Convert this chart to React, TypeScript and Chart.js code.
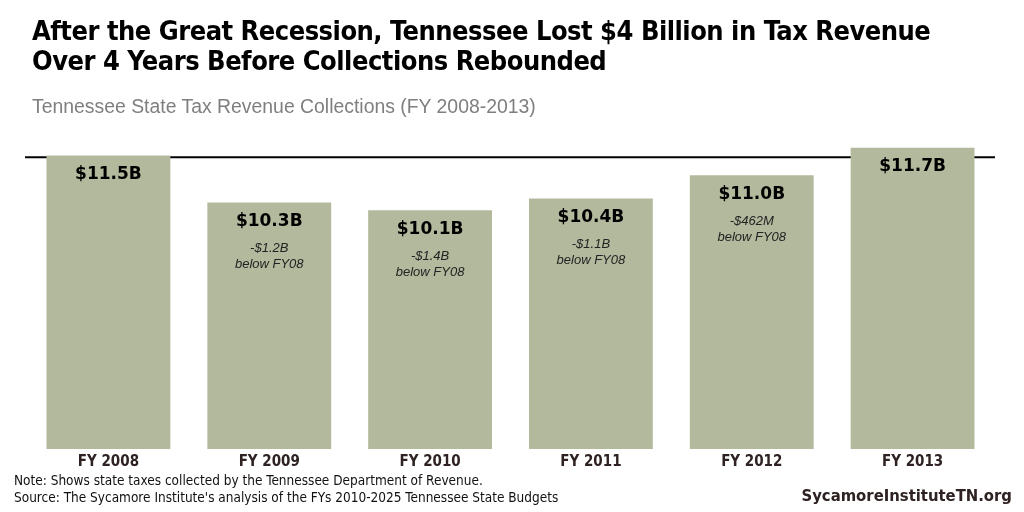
import React, { useEffect, useRef } from "react";
import { Chart, registerables } from "chart.js";

Chart.register(...registerables);

const categories = ["FY 2008", "FY 2009", "FY 2010", "FY 2011", "FY 2012", "FY 2013"];
const revenue = [11.5, 10.3, 10.1, 10.4, 11.0, 11.7];
const valueLabels = ["$11.5B", "$10.3B", "$10.1B", "$10.4B", "$11.0B", "$11.7B"];
const diffLabels = ["", "-$1.2B", "-$1.4B", "-$1.1B", "-$462M", ""];
const diffSuffix = ["", "below FY08", "below FY08", "below FY08", "below FY08", ""];
const referenceValue = 11.46;

const NARROW = "'Liberation Sans Narrow', 'DejaVu Sans Condensed', 'Arial Narrow', sans-serif";
const ARIAL = "'Liberation Sans', Arial, sans-serif";
const VERDANA = "'DejaVu Sans', Verdana, sans-serif";

const labelPlugin = {
  id: "barLabels",
  beforeDatasetsDraw(chart: any) {
    const { ctx, chartArea, scales } = chart;
    const y = scales.y.getPixelForValue(referenceValue);
    ctx.save();
    ctx.strokeStyle = "#000000";
    ctx.lineWidth = 2;
    ctx.beginPath();
    ctx.moveTo(chartArea.left - 3, y);
    ctx.lineTo(chartArea.right + 2, y);
    ctx.stroke();
    ctx.restore();
  },
  afterDatasetsDraw(chart: any) {
    const { ctx } = chart;
    const meta = chart.getDatasetMeta(0);
    ctx.save();
    ctx.textAlign = "center";
    ctx.textBaseline = "middle";
    meta.data.forEach((bar: any, i: number) => {
      const x = bar.x;
      const top = bar.y;
      ctx.fillStyle = "#000000";
      ctx.font = `bold 17px ${VERDANA}`;
      ctx.fillText(valueLabels[i], x, top + 19);
      if (diffLabels[i]) {
        ctx.fillStyle = "#222222";
        ctx.font = `italic 13px ${ARIAL}`;
        ctx.fillText(diffLabels[i], x, top + 46);
        ctx.fillText(diffSuffix[i], x, top + 62);
      }
    });
    ctx.restore();
  },
};

export default function App() {
  const ref = useRef<HTMLCanvasElement | null>(null);
  useEffect(() => {
    if (!ref.current) return;
    const chart = new Chart(ref.current, {
      type: "bar",
      data: {
        labels: categories,
        datasets: [
          {
            data: revenue,
            backgroundColor: "#b3b99d",
            borderWidth: 0,
            barPercentage: 0.77,
            categoryPercentage: 1,
          },
        ],
      },
      options: {
        animation: false,
        responsive: false,
        maintainAspectRatio: false,
        layout: { padding: { left: 28, right: 31, top: 136, bottom: 45 } },
        plugins: { legend: { display: false }, tooltip: { enabled: false }, title: { display: false } },
        scales: {
          x: {
            grid: { display: false },
            border: { display: false },
            ticks: { color: "#2e2222", font: { family: NARROW, size: 15, weight: "bold" }, padding: -4 },
          },
          y: { display: false, min: 4, max: 12 },
        },
      },
      plugins: [labelPlugin],
    });
    return () => chart.destroy();
  }, []);

  return (
    <div style={{ position: "fixed", left: 0, top: 0, width: 1024, height: 512, background: "#fff", overflow: "hidden" }}>
      <canvas ref={ref} width={1024} height={512} style={{ position: "absolute", left: 0, top: 0 }} />
      <div
        style={{
          position: "absolute",
          left: 32,
          top: 16,
          fontFamily: NARROW,
          fontWeight: "bold",
          fontSize: 27,
          lineHeight: "30px",
          color: "#000",
          letterSpacing: -0.5,
          whiteSpace: "nowrap",
        }}
      >
        After the Great Recession, Tennessee Lost $4 Billion in Tax Revenue
        <br />
        Over 4 Years Before Collections Rebounded
      </div>
      <div style={{ position: "absolute", left: 32, top: 95, fontFamily: ARIAL, fontSize: 19.4, color: "#7f7f7f", whiteSpace: "nowrap" }}>
        Tennessee State Tax Revenue Collections (FY 2008-2013)
      </div>
      <div style={{ position: "absolute", left: 14, top: 472, fontFamily: NARROW, fontSize: 13.5, lineHeight: "17px", color: "#111", whiteSpace: "nowrap" }}>
        Note: Shows state taxes collected by the Tennessee Department of Revenue.
        <br />
        Source: The Sycamore Institute's analysis of the FYs 2010-2025 Tennessee State Budgets
      </div>
      <div
        style={{
          position: "absolute",
          right: 12,
          top: 486,
          fontFamily: NARROW,
          fontWeight: "bold",
          fontSize: 16.5,
          color: "#2e2222",
          whiteSpace: "nowrap",
        }}
      >
        SycamoreInstituteTN.org
      </div>
    </div>
  );
}
